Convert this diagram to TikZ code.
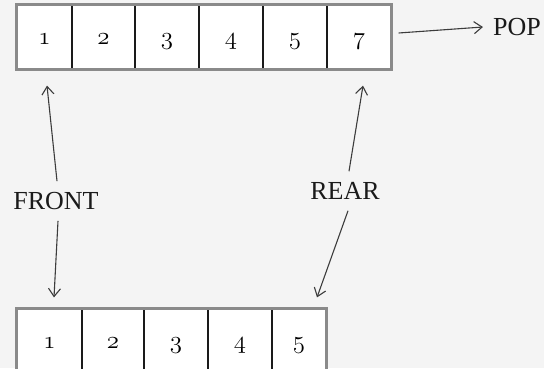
\documentclass[tikz,border=0pt]{standalone}
\usepackage{fontspec}
\setmainfont{Liberation Serif}
\usetikzlibrary{arrows.meta, positioning, calc}
\definecolor{paper}{HTML}{F4F4F4}
\definecolor{framegray}{HTML}{8A8A8A}
\definecolor{ink}{HTML}{1A1A1A}
% old-style digits as in the slide
\newcommand{\osn}[1]{{\fontsize{24.88}{30}\usefont{OML}{cmm}{m}{it}#1}}

\begin{document}
\begin{tikzpicture}[
    x=1pt, y=-1pt,
    % queue cells
    cell/.style={
        draw=ink, line width=1.2pt, fill=white,
        minimum height=64pt, inner sep=0pt,
        text height=19pt, text depth=5pt
    },
    framed/.style={draw=framegray, line width=2.4pt},
    % labels
    tag/.style={font=\fontsize{26}{30}\selectfont, text=ink, inner xsep=10pt, inner ysep=11pt},
    % arrows
    arr/.style={draw=ink!85, line width=1.1pt, -{Straight Barb[length=8pt, width=12pt]}}
]

    \clip (0,0) rectangle (544,368);
    \fill[paper] (0,0) rectangle (544,368);

    % 1. Top queue
    \node[cell, minimum width=55pt] (t1) at (44.5,37) {\osn{1}};
    \node[cell, minimum width=63pt] (t2) at (103.5,37) {\osn{2}};
    \node[cell, minimum width=64pt] (t3) at (167,37) {\osn{3}};
    \node[cell, minimum width=64pt] (t4) at (231,37) {\osn{4}};
    \node[cell, minimum width=64pt] (t5) at (295,37) {\osn{5}};
    \node[cell, minimum width=64pt] (t6) at (359,37) {\osn{7}};
    \draw[framed] (t1.north west) rectangle (t6.south east);

    % 2. Bottom queue
    \node[cell, minimum width=65pt] (b1) at (49.5,341) {\osn{1}};
    \node[cell, minimum width=62pt] (b2) at (113,341) {\osn{2}};
    \node[cell, minimum width=64pt] (b3) at (176,341) {\osn{3}};
    \node[cell, minimum width=64pt] (b4) at (240,341) {\osn{4}};
    \node[cell, minimum width=54pt] (b5) at (299,341) {\osn{5}};
    \draw[framed] (b1.north west) rectangle (b5.south east);

    % 3. Labels
    \node[tag] (front) at (56,201) {FRONT};
    \node[tag] (rear)  at (345,191) {REAR};
    \node[tag] (pop)   at (517,27) {POP};

    % 4. Arrows
    \draw[arr] ([xshift=1pt]front.north) -- ([xshift=2.5pt,yshift=-16pt]t1.south);
    \draw[arr] ([xshift=2pt]front.south) -- ([xshift=4.5pt,yshift=11pt]b1.north);
    \draw[arr] ([xshift=4pt]rear.north) -- ([xshift=4pt,yshift=-16pt]t6.south);
    \draw[arr] ([xshift=3pt]rear.south) -- ([xshift=18pt,yshift=11pt]b5.north);
    \draw[arr] ([xshift=7pt,yshift=4pt]t6.east) -- (pop.west);

\end{tikzpicture}
\end{document}
